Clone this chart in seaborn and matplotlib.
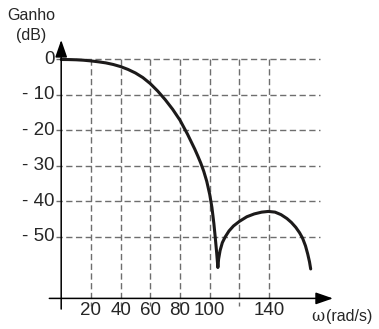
import pandas as pd
import matplotlib
matplotlib.use('Agg')
import matplotlib.pyplot as plt
import seaborn as sns

# magnitude curve
omega = [0, 5, 10, 15, 20, 25, 30, 35, 40, 45, 50, 55, 60, 65, 70, 75, 80,
         85, 90, 92, 94, 96, 98, 100, 101.5, 102.8, 103.8, 104.7, 105.5,
         106, 107, 108.5, 110.4, 113, 116, 120, 125, 130, 135, 139.5, 144,
         148, 152, 155, 158, 160.5, 162.5, 164.5, 166, 167.2, 168]
gain = [0, -0.02, -0.08, -0.2, -0.4, -0.65, -0.95, -1.4, -2.0, -2.8, -3.8,
        -5.1, -6.8, -8.9, -11.3, -14.0, -17.1, -21.0, -25.3, -27.2, -29.2,
        -31.5, -34.3, -38.0, -41.7, -46.2, -50.4, -54.5, -58.6,
        -56.2, -53.8, -51.6, -50.0, -48.3, -46.9, -45.6, -44.3, -43.5, -43.0,
        -42.8, -43.0, -43.7, -44.8, -45.9, -47.3, -48.8, -50.3, -52.5, -54.8,
        -57.0, -59.0]

x_ticks = [20, 40, 60, 80, 100, 140]
x_grid = [20, 40, 60, 80, 100, 120, 140]
y_ticks = [0, -10, -20, -30, -40, -50]
y_labels = ['0', '- 10', '- 20', '- 30', '- 40', '- 50']

df = pd.DataFrame({'omega': omega, 'gain': gain})

sns.set_style('white')
plt.rcParams['font.family'] = ['Liberation Sans', 'DejaVu Sans']

fig = plt.figure(figsize=(3.79, 3.29), dpi=100)
ax = fig.add_axes([0, 0, 1, 1])
ax.set_xlim(-41.21, 214.0)
ax.set_ylim(-75.92, 16.76)

grid = dict(color='#6e6e6e', lw=1.0, ls=(0, (4.5, 2.5)))
for y in y_ticks:
    ax.plot([-3.5, 174], [y, y], **grid)
for x in x_grid:
    ax.plot([x, x], [0, -69.3], **grid)

arrow = dict(arrowstyle='-|>,head_length=0.75,head_width=0.26', color='black',
             lw=1.1, mutation_scale=14, shrinkA=0, shrinkB=0)
ax.annotate('', xy=(183, -67.3), xytext=(-8, -67.3), arrowprops=arrow)
ax.annotate('', xy=(0, 5.5), xytext=(0, -70.3), arrowprops=arrow)

sns.lineplot(data=df, x='omega', y='gain', color='#1c1a1a', lw=2.2,
             sort=False, estimator=None, ax=ax)
ax.axis('off')

for x in x_ticks:
    ax.text(x, -68.4, str(x), ha='center', va='top', fontsize=13.5)
for y, lab in zip(y_ticks, y_labels):
    ax.text(-4.6, y, lab, ha='right', va='center', fontsize=13.5)

ax.text(-20.3, 12.3, 'Ganho', ha='center', va='center', fontsize=11.5)
ax.text(-20.3, 6.9, '(dB)', ha='center', va='center', fontsize=11.5)
ax.text(168.5, -72.3, 'ω', ha='left', va='center', fontsize=11.5, family='DejaVu Serif')
ax.text(178.5, -72.3, '(rad/s)', ha='left', va='center', fontsize=11.5)

fig.savefig('out.png', dpi=100)
